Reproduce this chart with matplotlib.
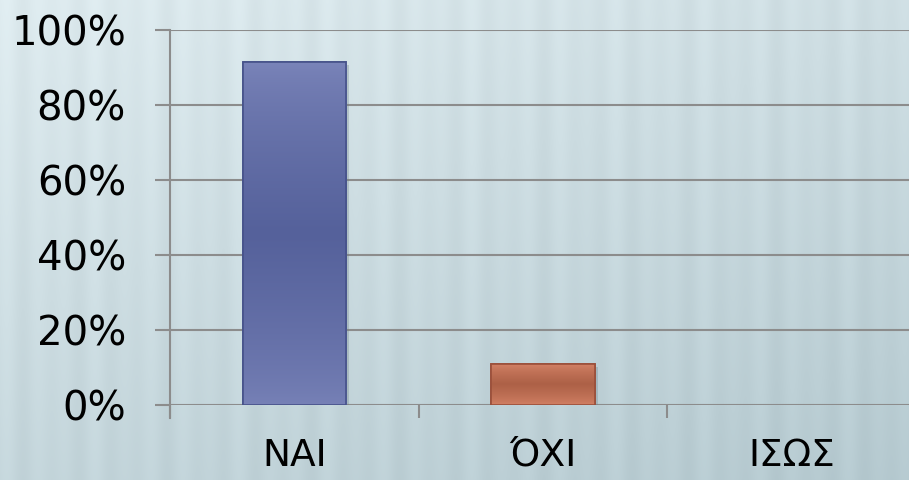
import numpy as np
import matplotlib
matplotlib.use("Agg")
import matplotlib.pyplot as plt
from matplotlib.patches import Rectangle
from matplotlib.colors import to_rgb

categories = ["NAI", "ΌΧΙ", "ΙΣΩΣ"]
values = [91.5, 11, 0]
yticks = [0, 20, 40, 60, 80, 100]
ytick_labels = ["0%", "20%", "40%", "60%", "80%", "100%"]
bar_dark = ["#55619b", "#ad6147", "#6070a0"]
bar_light = ["#7b85ba", "#d9866a", "#8fa0c8"]
edge_colors = ["#46528a", "#9a4f3a", "#6070a0"]

W, H = 909, 480
PX = 72 / 100  # points per pixel
fig = plt.figure(figsize=(W / 100, H / 100), dpi=100)

# background texture: soft vertical stripes, lighter at top-left
bg_ax = fig.add_axes([0, 0, 1, 1], zorder=0)
xx = np.arange(W)[None, :]
yy = np.arange(H)[:, None]
stripe = 0.6 * np.sin(2 * np.pi * xx / 29.0) + 0.4 * np.sin(2 * np.pi * xx / 47.0 + 1.3)
fx = xx / W
fy = yy / H
light = 1.0 - 0.5 * fy - 0.3 * fx
top = np.array([222, 235, 239]) / 255
bot = np.array([170, 192, 199]) / 255
t = np.clip(1 - light, 0, 1)[..., None]
img = top * (1 - t) + bot * t
img = img + (stripe[..., None] * 0.016)
img = np.clip(img, 0, 1)
bg_ax.imshow(img, aspect="auto", extent=[0, W, H, 0])
bg_ax.axis("off")

ax = fig.add_axes([170 / W, 1 - 405 / H, 746 / W, 375 / H], zorder=1)
ax.patch.set_alpha(0)
x = np.arange(len(categories))
bw = 0.415
for i, v in enumerate(values):
    if v <= 0:
        continue
    ax.add_patch(Rectangle((i - bw / 2 + 0.014, -0.8), bw, v, facecolor="#6d7f86",
                           alpha=0.3, edgecolor="none", zorder=2))
    bars = ax.bar([x[i]], [v], width=bw, color=bar_dark[i], edgecolor=edge_colors[i],
                  linewidth=1.2, zorder=3)
    # bevelled gradient fill
    d = np.array(to_rgb(bar_dark[i]))
    l = np.array(to_rgb(bar_light[i]))
    n = 200
    s = np.linspace(0, 1, n)
    w = np.clip(np.minimum(s, 1 - s) * 2, 0, 1) ** 0.7
    w = 1 - w
    w[: n // 2] *= 0.9
    grad = (d[None, :] * (1 - w[:, None]) + l[None, :] * w[:, None])[:, None, :]
    grad = np.repeat(grad, 3, axis=1)
    im = ax.imshow(grad, aspect="auto", extent=[i - bw / 2, i + bw / 2, 0, v],
                   origin="lower", zorder=3.5, interpolation="bilinear")
    im.set_clip_path(bars.patches[0])
    ax.add_patch(Rectangle((i - bw / 2, 0), bw, v, facecolor="none",
                           edgecolor=edge_colors[i], linewidth=1.2, zorder=4))

ax.set_xlim(-0.5, 2.5)
ax.set_ylim(0, 100)
ax.set_yticks(yticks)
ax.set_yticklabels(ytick_labels)
ax.set_xticks(x)
ax.set_xticklabels(categories)
ax.set_xticks([-0.5, 0.5, 1.5, 2.5], minor=True)
ax.tick_params(axis="x", which="major", length=0, pad=33 * PX, labelsize=27)
ax.tick_params(axis="x", which="minor", length=13 * PX, width=1.5, color="#8c8c8c", direction="out")
ax.tick_params(axis="y", length=15 * PX, width=1.5, color="#8c8c8c", pad=29 * PX, labelsize=29)
ax.grid(axis="y", color="#8c8c8c", linewidth=1.5, zorder=1)
ax.set_axisbelow(True)
for s in ["top", "right", "bottom"]:
    ax.spines[s].set_visible(False)
ax.spines["left"].set_color("#8c8c8c")
ax.spines["left"].set_linewidth(1.5)
ax.spines["left"].set_bounds(-3.5, 100)

fig.savefig("out.png", dpi=100)
